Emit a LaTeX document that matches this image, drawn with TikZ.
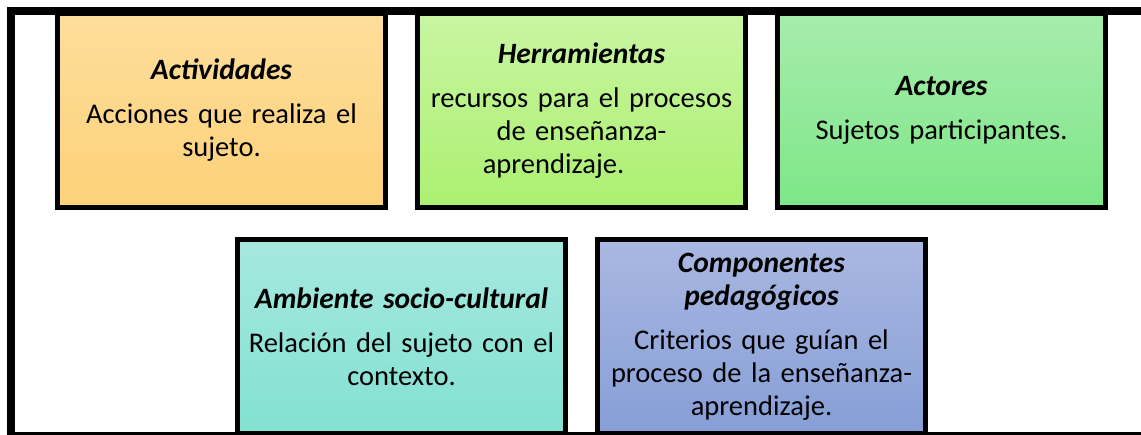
\documentclass[tikz,border=0pt]{standalone}
\usepackage{fontspec}
\setmainfont{Carlito}
\usetikzlibrary{shadows}

\definecolor{actTop}{RGB}{254,222,156}
\definecolor{actBot}{RGB}{252,209,120}
\definecolor{herTop}{RGB}{200,245,162}
\definecolor{herBot}{RGB}{172,240,112}
\definecolor{aktTop}{RGB}{166,236,172}
\definecolor{aktBot}{RGB}{126,230,136}
\definecolor{ambTop}{RGB}{166,232,222}
\definecolor{ambBot}{RGB}{130,225,210}
\definecolor{comTop}{RGB}{170,184,226}
\definecolor{comBot}{RGB}{134,158,214}

\newcommand{\cardtitle}[1]{{\fontsize{29.5}{33}\selectfont\bfseries\itshape #1}}

\begin{document}
\begin{tikzpicture}[x=1pt,y=-1pt,
  card/.style={draw=black,line width=5pt,rectangle,minimum width=328pt,minimum height=194pt,
    text width=322pt,align=center,inner sep=0pt,font=\fontsize{28.5}{33}\selectfont,
    drop shadow={shadow xshift=2pt,shadow yshift=-2pt,fill=black!40}}]
\useasboundingbox (0,0) rectangle (1141,435);
\clip (0,0) rectangle (1141,435);

% Upper row
\node[card,top color=actTop,bottom color=actBot] (actividades) at (221.5,110.5)
  {\cardtitle{Actividades}\\[11pt]Acciones que realiza el\\sujeto.};
\node[card,top color=herTop,bottom color=herBot] (herramientas) at (581.5,110.5)
  {\cardtitle{Herramientas}\\[11pt]recursos para el procesos\\de enseñanza-\\aprendizaje.\rule{56pt}{0pt}};
\node[card,top color=aktTop,bottom color=aktBot] (actores) at (941.5,110.5)
  {\cardtitle{Actores}\\[11pt]Sujetos participantes.};

% Lower row
\node[card,top color=ambTop,bottom color=ambBot] (ambiente) at (401.5,336.5)
  {\cardtitle{Ambiente socio-cultural}\\[11pt]Relación del sujeto con el\\contexto.};
\node[card,top color=comTop,bottom color=comBot] (componentes) at (761.5,336.5)
  {\cardtitle{Componentes\\pedagógicos}\\[11pt]Criterios que guían el\\proceso de la enseñanza-\\aprendizaje.};

% Frame
\draw[line width=8pt] (1160,436) -- (10.5,436) -- (10.5,11) -- (1160,11);
\end{tikzpicture}
\end{document}
